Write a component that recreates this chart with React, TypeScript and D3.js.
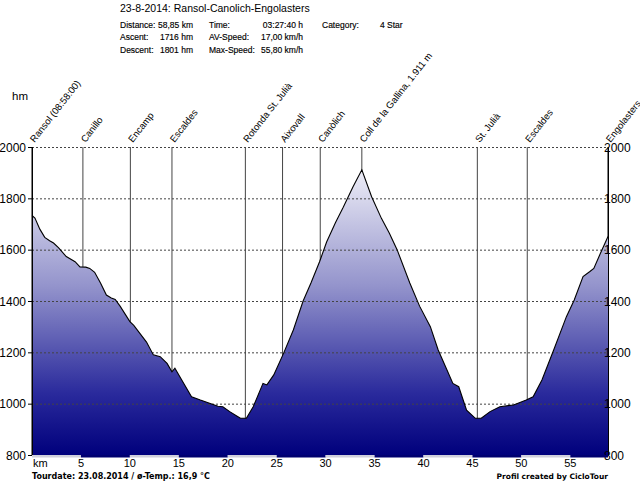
import React from "react";
import * as d3 from "d3";

// profile: km / height (hm)
const profileKm = [
  0, 0.3, 0.8, 1.3, 1.8, 2.2, 2.7, 3.5, 4.4, 4.9, 5.5, 5.9, 6.4, 7.0, 7.6, 8.1, 8.5, 9.0,
  10.0, 10.4, 11.0, 11.7, 12.4, 13.1, 13.8, 14.3, 14.6, 15.3, 16.3, 17.2, 18.5, 19.0, 19.5,
  20.2, 21.0, 21.3, 21.9, 22.6, 23.6, 24.0, 24.7, 25.7, 26.7, 27.7, 28.5, 29.4, 30.1, 31.0,
  31.8, 32.8, 33.7, 34.7, 35.7, 36.5, 37.3, 38.6, 39.6, 40.7, 41.5, 42.4, 43.0, 43.6, 44.4,
  45.3, 45.9, 46.8, 47.8, 49.2, 50.5, 51.2, 52.1, 53.3, 54.6, 55.4, 56.3, 57.0, 57.4, 58.0,
  58.85,
];
const profileHm = [
  1733, 1723, 1680, 1648, 1635, 1626, 1608, 1573, 1553, 1533, 1532, 1527, 1512, 1470, 1423,
  1412, 1406, 1380, 1320, 1305, 1275, 1240, 1190, 1183, 1157, 1124, 1138, 1092, 1027, 1014,
  997, 990, 988, 969, 950, 943, 943, 988, 1079, 1073, 1112, 1196, 1287, 1400, 1470, 1555,
  1630, 1705, 1765, 1845, 1911, 1806, 1722, 1665, 1600, 1470, 1380, 1300, 1209, 1131, 1079,
  1066, 975, 943, 943, 969, 988, 995, 1014, 1027, 1092, 1209, 1339, 1404, 1495, 1515, 1527,
  1579, 1651,
];

const waypointNames = [
  "Ransol (08:58:00)", "Canillo", "Encamp", "Escaldes", "Rotonda St. Julià", "Aixovall",
  "Canòlich", "Coll de la Gallina, 1.911 m", "St. Julià", "Escaldes", "Engolasters",
];
const waypointKm = [0, 5.2, 10.05, 14.3, 21.8, 25.6, 29.45, 33.7, 45.5, 50.6, 58.85];

const yTicks = [800, 1000, 1200, 1400, 1600, 1800, 2000];
const xTicks = [5, 10, 15, 20, 25, 30, 35, 40, 45, 50, 55];

const title = "23-8-2014: Ransol-Canolich-Engolasters";
const statLabels = [
  ["Distance:", "Time:", "Category:"],
  ["Ascent:", "AV-Speed:"],
  ["Descent:", "Max-Speed:"],
];
const statValues = [
  ["58,85 km", "03:27:40 h", "4 Star"],
  ["1716 hm", "17,00 km/h"],
  ["1801 hm", "55,80 km/h"],
];

const W = 640, H = 481;
const L = 32, R = 608, T = 147, B = 455;

export default function App() {
  const x = d3.scaleLinear().domain([0, 58.85]).range([L, R]);
  const y = d3.scaleLinear().domain([800, 2000]).range([B, T]);
  const pts = profileKm.map((k, i) => [k, profileHm[i]] as [number, number]);
  const area = d3.area<[number, number]>().x((d) => x(d[0])).y0(B).y1((d) => y(d[1]));
  const line = d3.line<[number, number]>().x((d) => x(d[0])).y((d) => y(d[1]));

  const segs = d3.range(0, 60, 5);
  const small = "'Liberation Sans', Arial, sans-serif";
  const verd = "'DejaVu Sans', Verdana, sans-serif";
  const rowY = [27.5, 40, 53];
  const labX = [120, 209, 322];
  const valX = [193, 303, 380];

  return (
    <svg width={W} height={H} style={{ position: "absolute", left: 0, top: 0, background: "#fff" }}>
      <defs>
        <linearGradient id="fillGrad" gradientUnits="userSpaceOnUse" x1="0" y1={T} x2="0" y2={B}>
          <stop offset="0" stopColor="#ffffff" />
          <stop offset="0.45" stopColor="#9494cc" />
          <stop offset="0.8" stopColor="#2a2a9c" />
          <stop offset="1" stopColor="#00007c" />
        </linearGradient>
      </defs>

      <text x={120} y={12} fontFamily={small} fontSize={10.5} fill="#000">{title}</text>
      {statLabels.map((row, r) =>
        row.map((lab, c) => (
          <g key={`s${r}${c}`} fontFamily={small} fontSize={8.5} fill="#000" stroke="#000" strokeWidth={0.15}>
            <text x={labX[c]} y={rowY[r]}>{lab}</text>
            <text x={valX[c]} y={rowY[r]} textAnchor={c === 2 ? "start" : "end"}>
              {statValues[r][c]}
            </text>
          </g>
        ))
      )}

      <text x={12} y={100} fontFamily={small} fontSize={11.5}>hm</text>

      {/* waypoint lines */}
      {waypointKm.map((k, i) => (
        <line key={`w${i}`} x1={x(k)} x2={x(k)} y1={T} y2={B} stroke={i === 0 || i === waypointKm.length - 1 ? "#000" : "#444"} strokeWidth={1} />
      ))}

      <path d={area(pts) ?? ""} fill="url(#fillGrad)" />

      {/* grid */}
      {yTicks.filter((t) => t > 800).map((t) => (
        <line key={`g${t}`} x1={L} x2={R} y1={y(t) + 0.5} y2={y(t) + 0.5} stroke="#444" strokeDasharray="2,2" strokeWidth={1} />
      ))}

      <path d={line(pts) ?? ""} fill="none" stroke="#000" strokeWidth={1.1} />

      {/* axes */}
      <line x1={L + 0.5} x2={L + 0.5} y1={T} y2={B} stroke="#000" />
      <line x1={R + 0.5} x2={R + 0.5} y1={T} y2={B} stroke="#000" />
      {yTicks.map((t) => (
        <g key={`y${t}`} fontFamily={small} fontSize={12} fill="#000">
          <line x1={L - 4} x2={L} y1={y(t) + 0.5} y2={y(t) + 0.5} stroke="#000" />
          <text x={L - 6} y={y(t) + 4.5} textAnchor="end">{t}</text>
          <text x={R - 4} y={y(t) + 4.5}>{t}</text>
        </g>
      ))}

      {segs.map((s, i) => (
        <rect key={`b${s}`} x={x(s)} y={B} width={Math.max(0, x(Math.min(s + 5, 58.85)) - x(s))} height={2.5} fill={i % 2 === 0 ? "#d0d0dc" : "#000070"} />
      ))}

      <text x={33} y={467} fontFamily={small} fontSize={11}>km</text>
      {xTicks.map((t) => (
        <text key={`x${t}`} x={x(t)} y={467} textAnchor="middle" fontFamily={small} fontSize={11}>{t}</text>
      ))}

      <text x={32} y={479} fontFamily={verd} fontWeight="bold" fontSize={8}>
        {"Tourdate: 23.08.2014  /  ø-Temp.: 16,9 °C"}
      </text>
      <text x={R} y={479} textAnchor="end" fontFamily={verd} fontWeight="bold" fontSize={7.5}>
        Profil created by CicloTour
      </text>

      {waypointNames.map((n, i) => (
        <text key={`n${i}`} transform={`translate(${x(waypointKm[i]) + 2.5},${T - 4}) rotate(-52)`} fontFamily={small} fontSize={9.5} fill="#000">
          {n}
        </text>
      ))}
    </svg>
  );
}
